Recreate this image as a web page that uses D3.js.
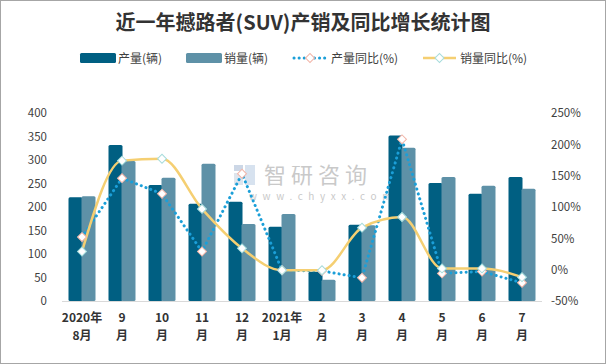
<!DOCTYPE html>
<html><head><meta charset="utf-8">
<script src="https://cdn.jsdelivr.net/npm/d3@7"></script>
<style>body{margin:0;background:#fff}svg{display:block}</style>
</head><body>
<script>
const categories = ["2020年|8月","9|月","10|月","11|月","12|月","2021年|1月","2|月","3|月","4|月","5|月","6|月","7|月"];
const production = [221, 332, 247, 207, 211, 158, 62, 162, 352, 251, 228, 264];
const sales = [223, 298, 262, 292, 164, 185, 45, 161, 326, 264, 245, 239];
const productionYoY = [52, 146, 121, 29, 153, -1, -2, -13, 208, -6, -3, -21];
const salesYoY = [29, 174, 177, 97, 34, -1, -1, 67, 84, 2, 2, -12];
const leftTicks = [0,50,100,150,200,250,300,350,400];
const rightTicks = [-50,0,50,100,150,200,250];

const W=606,H=364;
const svg=d3.select("body").append("svg").attr("width",W).attr("height",H);
svg.append("rect").attr("x",0.5).attr("y",0.5).attr("width",W-1).attr("height",H-1).attr("fill","#fff").attr("stroke","#a6a6a6");
const font="'Microsoft YaHei','Noto Sans CJK SC',sans-serif";
const txt="#404040";
svg.append("text").attr("x",303).attr("y",30).attr("text-anchor","middle")
  .attr("font-family","'Noto Sans CJK SC',serif").attr("font-weight","bold").attr("font-size",20).attr("fill","#333").text("近一年撼路者(SUV)产销及同比增长统计图");

const x=d3.scaleBand().domain(d3.range(categories.length)).range([62,542]);
const yL=d3.scaleLinear().domain([0,400]).range([301,113]);
const yR=d3.scaleLinear().domain([-50,250]).range([301,113]);

// watermark
const wm=svg.append("g").attr("opacity",0.45);
wm.append("rect").attr("x",234).attr("y",165).attr("width",9).attr("height",6).attr("fill","#8fa8c8");
wm.append("rect").attr("x",234).attr("y",173).attr("width",9).attr("height",12).attr("fill","#b8c6d8");
wm.append("rect").attr("x",245).attr("y",165).attr("width",10).attr("height",20).attr("fill","#a8c0dc");
wm.append("text").attr("x",264).attr("y",183).attr("font-family",font).attr("font-size",22).attr("fill","#888").attr("letter-spacing",5).text("智研咨询");
wm.append("text").attr("x",249).attr("y",200).attr("font-family",font).attr("font-size",10).attr("fill","#888").attr("letter-spacing",5.6).text("www.chyxx.com");

// bars
const bw=14;
svg.append("g").selectAll("rect").data(production).join("rect")
  .attr("x",(d,i)=>x(i)+x.bandwidth()/2-bw+0.5).attr("width",bw)
  .attr("y",d=>yL(d)).attr("height",d=>yL(0)-yL(d)).attr("fill","#005F82").attr("rx",1.5);
svg.append("g").selectAll("rect").data(sales).join("rect")
  .attr("x",(d,i)=>x(i)+x.bandwidth()/2-0.5).attr("width",bw)
  .attr("y",d=>yL(d)).attr("height",d=>yL(0)-yL(d)).attr("fill","#5E91A7").attr("rx",1.5);

// axis line
svg.append("line").attr("x1",62).attr("x2",542).attr("y1",301.5).attr("y2",301.5).attr("stroke","#d9d9d9").attr("stroke-width",1.2);

// axes
const la=svg.append("g").attr("transform","translate(47,0)").call(d3.axisLeft(yL).tickValues(leftTicks).tickSize(0).tickPadding(0));
la.select(".domain").remove();
la.selectAll("text").attr("font-family",font).attr("font-size",11.5).attr("fill",txt);
const ra=svg.append("g").attr("transform","translate(551,0)").call(d3.axisRight(yR).tickValues(rightTicks).tickSize(0).tickPadding(0).tickFormat(d=>d+"%"));
ra.select(".domain").remove();
ra.selectAll("text").attr("font-family",font).attr("font-size",11.5).attr("fill",txt);

// x labels
const xl=svg.append("g");
categories.forEach((c,i)=>{
  c.split("|").forEach((p,j)=>{
    xl.append("text").attr("x",x(i)+x.bandwidth()/2).attr("y",322+j*18).attr("text-anchor","middle")
      .attr("font-family",font).attr("font-weight","bold").attr("font-size",12).attr("fill","#333").text(p);
  });
});

const cx=i=>x(i)+x.bandwidth()/2;
svg.append("path").datum(productionYoY).attr("d",d3.line().x((d,i)=>cx(i)).y(d=>yR(d)))
  .attr("fill","none").attr("stroke","#1B9FD8").attr("stroke-width",3).attr("stroke-dasharray","0.1 5").attr("stroke-linecap","round");
svg.append("path").datum(salesYoY).attr("d",d3.line().x((d,i)=>cx(i)).y(d=>yR(d)).curve(d3.curveMonotoneX))
  .attr("fill","none").attr("stroke","#F5CF72").attr("stroke-width",2.5);

const diamond=d3.symbol().type(d3.symbolSquare).size(40);
svg.append("g").selectAll("path").data(productionYoY).join("path")
  .attr("d",diamond).attr("transform",(d,i)=>`translate(${cx(i)},${yR(d)}) rotate(45)`)
  .attr("fill","#fff").attr("stroke","#F2B5A8").attr("stroke-width",1);
svg.append("g").selectAll("path").data(salesYoY).join("path")
  .attr("d",diamond).attr("transform",(d,i)=>`translate(${cx(i)},${yR(d)}) rotate(45)`)
  .attr("fill","#fff").attr("stroke","#A6DCDC").attr("stroke-width",1);

// legend
const lg=svg.append("g").attr("font-family",font).attr("font-size",12).attr("fill",txt);
lg.append("rect").attr("x",80).attr("y",53).attr("width",36).attr("height",10).attr("fill","#005F82").attr("rx",1.5);
lg.append("text").attr("x",118).attr("y",63).text("产量(辆)");
lg.append("rect").attr("x",186).attr("y",53).attr("width",36).attr("height",10).attr("fill","#5E91A7").attr("rx",1.5);
lg.append("text").attr("x",224).attr("y",63).text("销量(辆)");
lg.append("line").attr("x1",294).attr("x2",326).attr("y1",58).attr("y2",58).attr("stroke","#1B9FD8").attr("stroke-width",3).attr("stroke-dasharray","0.1 5").attr("stroke-linecap","round");
lg.append("path").attr("d",diamond).attr("transform","translate(310,58) rotate(45)").attr("fill","#fff").attr("stroke","#F2B5A8");
lg.append("text").attr("x",331).attr("y",63).text("产量同比(%)");
lg.append("line").attr("x1",423).attr("x2",456).attr("y1",58).attr("y2",58).attr("stroke","#F5CF72").attr("stroke-width",2.5);
lg.append("path").attr("d",diamond).attr("transform","translate(439.5,58) rotate(45)").attr("fill","#fff").attr("stroke","#A6DCDC");
lg.append("text").attr("x",460).attr("y",63).text("销量同比(%)");
</script>
</body></html>
